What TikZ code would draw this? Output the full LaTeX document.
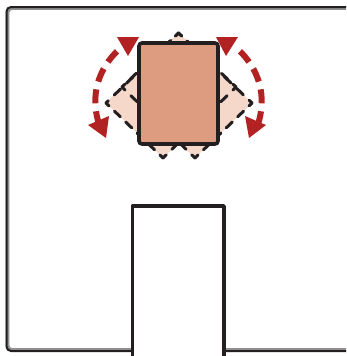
\documentclass[tikz,border=0pt]{standalone}
\definecolor{ink}{HTML}{231F20}
\definecolor{mainfill}{HTML}{DD9B80}
\definecolor{ghostfill}{HTML}{F5D8C9}
\definecolor{arrowred}{HTML}{B22222}
\tikzset{
  ghostlong/.style={draw=ink,line width=3pt,line cap=round,dash pattern=on 9pt off 8pt,dash phase=4.5pt},
  ghostshort/.style={draw=ink,line width=3pt,line cap=round,dash pattern=on 8.3pt off 7.5pt,dash phase=4.15pt},
  mainrect/.style={draw=ink,fill=mainfill,line width=3.6pt,rounded corners=3pt},
  stemrect/.style={draw=ink,fill=white,line width=3.6pt,line join=round},
  swingline/.style={draw=arrowred,line width=6pt,dash pattern=on 14pt off 8pt,dash phase=14pt},
  swinghead/.style={fill=arrowred},
  frameouter/.style={draw=ink!50,line width=3.6pt,rounded corners=4.5pt},
  frameinner/.style={draw=ink,line width=2pt,rounded corners=4.5pt}
}
\begin{document}
\begin{tikzpicture}[x=1pt,y=-1pt]
\useasboundingbox (0,0) rectangle (346,356);
\fill[white] (0,0) rectangle (346,356);
\draw[frameouter] (346,8) -- (7.5,8) -- (7.5,350) -- (346,350);
\draw[frameinner] (346,7) -- (6.5,7) -- (6.5,351) -- (346,351);
\coordinate (T) at (178.5,33);
\coordinate (RR) at (252,103);
\coordinate (RB) at (195,158);
\coordinate (RL) at (122,87);
\coordinate (LL) at (106,103);
\coordinate (LB) at (163,158);
\coordinate (LR) at (236,87);
\fill[ghostfill] (T) -- (RR) -- (RB) -- (RL) -- cycle;
\fill[ghostfill] (T) -- (LL) -- (LB) -- (LR) -- cycle;
\draw[ghostlong] (T) -- (RR);
\draw[ghostshort] (RR) -- (RB);
\draw[ghostlong] (RB) -- (RL);
\draw[ghostshort] (RL) -- (T);
\draw[ghostlong] (T) -- (LL);
\draw[ghostshort] (LL) -- (LB);
\draw[ghostlong] (LB) -- (LR);
\draw[ghostshort] (LR) -- (T);
\draw[mainrect] (139,43) rectangle (218,144);
\draw[stemrect] (132.5,356) -- (132.5,206) -- (224,206) -- (224,356);
\draw[swingline] (123,46) .. controls (103,62) and (88,90) .. (99,124);
\draw[swingline] (234,46) .. controls (254,62) and (269,90) .. (258,124);
\fill[swinghead] (139,37) -- (117,37) -- (128,56) -- cycle;
\fill[swinghead] (106,138) -- (88,125) -- (109,116) -- cycle;
\fill[swinghead] (216,37) -- (238,37) -- (226,56) -- cycle;
\fill[swinghead] (249,138) -- (266,125) -- (245,116) -- cycle;
\end{tikzpicture}
\end{document}
